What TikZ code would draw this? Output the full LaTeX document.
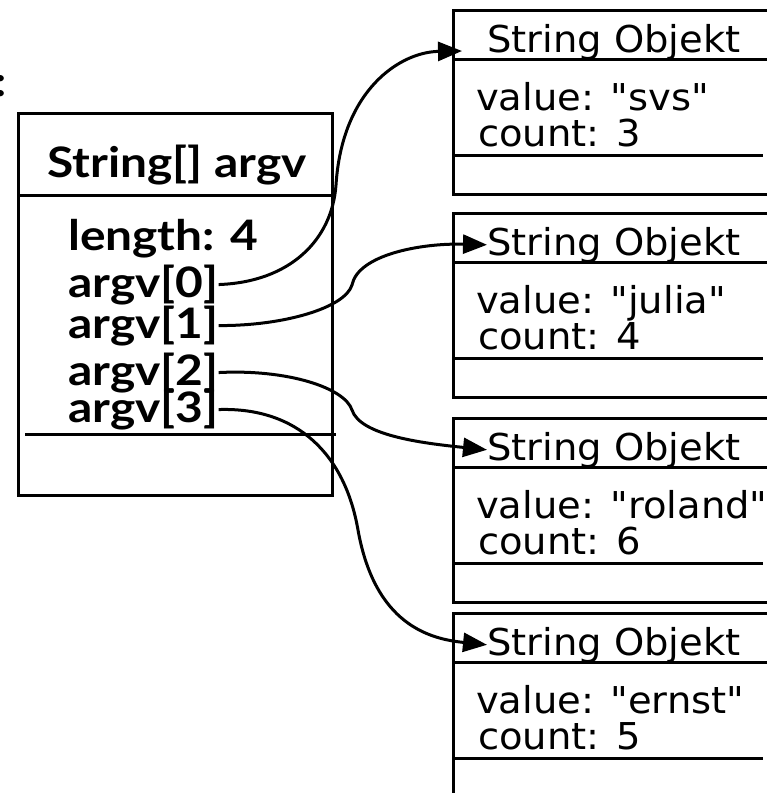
\documentclass[tikz,border=0pt]{standalone}
\usepackage{fontspec}
\usetikzlibrary{arrows.meta,calc}
\newfontfamily\heavyfont{Lato}[FakeStretch=1.14]
\newfontfamily\plainfont{DejaVu Sans}[FakeStretch=1.04]

\tikzset{
  boxline/.style={line width=3pt},
  conn/.style={line width=3pt, -{Triangle[length=24pt,width=19pt]}},
  lefttxt/.style={font=\heavyfont\bfseries\fontsize{42}{42}\selectfont, anchor=base west, inner sep=0pt},
  righttxt/.style={font=\plainfont\fontsize{37}{37}\selectfont, anchor=base west, inner sep=0pt}
}

\begin{document}
\begin{tikzpicture}[x=1pt,y=-1pt]
\useasboundingbox (0,0) rectangle (767,793);
\clip (0,0) rectangle (767,793);

% cut-off colon at the left edge
\node[lefttxt, anchor=base] (colon) at (1,96) {:};

% the array object
\draw[boxline] (18,113) rectangle (332,495);
\draw[boxline] (18,195) -- (332,195);
\draw[boxline] (25,434) -- (336,434);
\node[lefttxt, anchor=base] (title) at (177,177) {String[] argv};
\node[lefttxt] (len) at (68,250) {length: 4};
\node[lefttxt] (a0) at (68,297) {argv[0]};
\node[lefttxt] (a1) at (68,338) {argv[1]};
\node[lefttxt] (a2) at (68,385) {argv[2]};
\node[lefttxt] (a3) at (68,422) {argv[3]};

% the four string objects
\foreach \T/\v/\c/\n in {10/svs/3/1, 213/julia/4/2, 418/roland/6/3, 613/ernst/5/4} {
  \draw[boxline] (775,\T) -- (453,\T) -- (453,\T+184) -- (775,\T+184);
  \draw[boxline] (453,\T+49) -- (775,\T+49);
  \draw[boxline] (453,\T+145) -- (763,\T+145);
  \node[righttxt] (h\n) at (487,\T+42) {String Objekt};
  \node[righttxt] (v\n) at (476,\T+100) {value: "\v"};
  \node[righttxt] (c\n) at (478,\T+136) {count: \c};
}

\coordinate (t1) at (462,51);

% references from the array slots to the objects
\draw[conn] (a0.east) .. controls (290,282) and (332,240) .. (336,185)
                      .. controls (342,90) and (400,52) .. (t1);
\draw[conn] (a1.east) .. controls (283,326) and (345,308) .. (352,285)
                      .. controls (358,255) and (420,243) .. (h2.west);
\draw[conn] (a2.east) .. controls (288,369) and (345,388) .. (352,410)
                      .. controls (360,435) and (420,443) .. (h3.west);
\draw[conn] (a3.east) .. controls (298,407) and (345,455) .. (358,530)
                      .. controls (375,625) and (430,639) .. (h4.west);
\end{tikzpicture}
\end{document}
